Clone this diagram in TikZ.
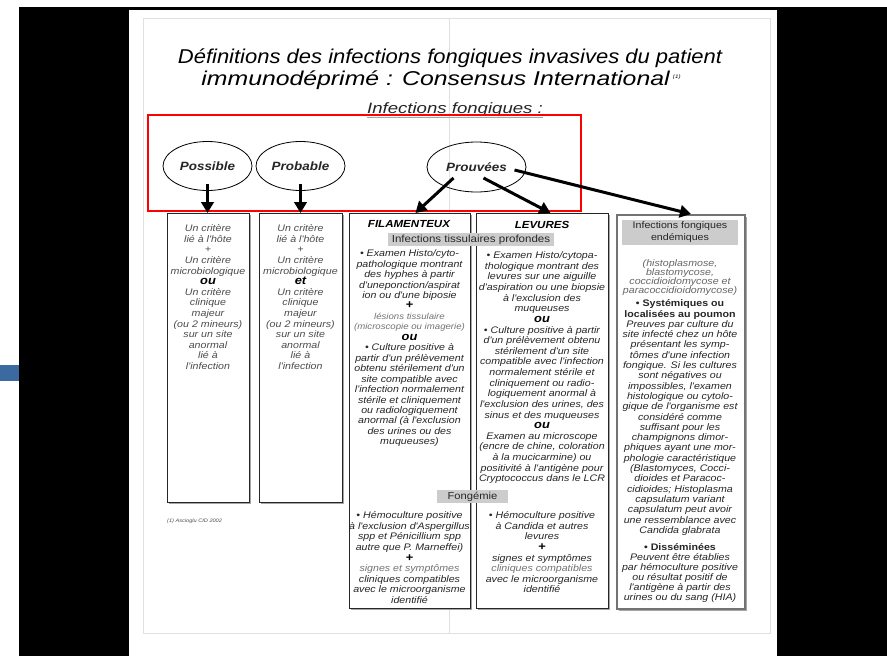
\documentclass[tikz,border=0pt]{standalone}
\usepackage{fontspec}
\setmainfont{Liberation Sans}
\newfontfamily\wf[FakeStretch=1.12]{Liberation Sans}
\newfontfamily\tfa[FakeStretch=1.1]{Liberation Sans}
\newfontfamily\tfb[FakeStretch=1.24]{Liberation Sans}
\usetikzlibrary{shapes.geometric,arrows.meta,shadows}
\definecolor{blu}{RGB}{58,106,160}
\newcommand\fl{\rule{0pt}{8pt}}
\newcommand\bo[1]{{\bfseries\fontsize{11.5}{10.6}\selectfont\color{black}#1}}
\newcommand\lt[1]{{\color{black!55}#1}}
\newcommand\ltsm[1]{{\fontsize{8.6}{10.45}\selectfont\color{black!55}#1}}
\begin{document}
\begin{tikzpicture}[x=1pt,y=-1pt,
  blk/.style={align=center,inner sep=0pt,anchor=north,text=black!85},
  body/.style={blk,font=\wf\itshape\fontsize{9.5}{#1}\selectfont},
  body/.default=10.6,
  box/.style={draw=black!85,line width=0.9pt,fill=white,anchor=north west,inner sep=0pt,
    drop shadow={shadow xshift=1.6pt,shadow yshift=-1.6pt,fill=black!35,opacity=1}},
  oval/.style={ellipse,draw,line width=0.8pt,minimum width=89pt,minimum height=49pt,inner sep=0pt,
    font=\wf\bfseries\itshape\fontsize{12}{12}\selectfont,text=black!85},
  arr/.style={line width=3pt,-{Triangle[length=11pt,width=12.5pt]}},
  bar/.style={fill=black!20,inner sep=0pt,font=\wf\fontsize{10}{12}\selectfont,text=black!85},
]
% background
\useasboundingbox (0,0) rectangle (887,656);
\fill[white] (0,0) rectangle (887,656);
\fill[black] (19,7) rectangle (887,656);
\fill[white] (129,10) rectangle (777,656);
\fill[blu] (0,365) rectangle (19,381);
\draw[black!12,line width=1pt] (143,18) rectangle (770,633);
\draw[black!12,line width=1pt] (449,18) -- (449,633);

% titles
\node[inner sep=0,font=\tfa\itshape\fontsize{20}{20}\selectfont] (t1) at (450,58)
  {Définitions des infections fongiques invasives du patient};
\node[inner sep=0,font=\tfb\itshape\fontsize{20}{20}\selectfont] (t2) at (441,80)
  {immunodéprimé : Consensus International\,\raisebox{7pt}{\fontsize{5}{5}\selectfont (1)}};
\node[inner sep=0,font=\tfb\itshape\fontsize{15}{15}\selectfont,text=black!85] (ifg) at (455,110)
  {Infections fongiques :};
\draw[black!35,line width=1.2pt] ([yshift=-0.5pt]ifg.south west) -- ([yshift=-0.5pt]ifg.south east);

% red frame
\draw[red,line width=1.5pt] (148,115) rectangle (581,211);

% ellipses
\node[oval] (pos) at (207.5,166) {Possible};
\node[oval] (prb) at (300.5,166) {Probable};
\node[oval,minimum width=99pt,minimum height=50pt] (prv) at (476.5,167) {Prouvées};

% boxes
\node[box,minimum width=82pt,minimum height=289pt] (b1) at (167,213) {};
\node[box,minimum width=83pt,minimum height=289pt] (b2) at (259,213) {};
\node[box,minimum width=121pt,minimum height=395pt] (fil) at (349,213) {};
\node[box,minimum width=132pt,minimum height=395pt] (lev) at (476,213) {};
\node[box,minimum width=128pt,minimum height=394pt,draw=black!55,line width=1.8pt] (end) at (616,214) {};

% arrows
\draw[arr] ([yshift=7pt]pos.south) -- (pos.south |- b1.north);
\draw[arr] ([yshift=7pt]prb.south) -- (prb.south |- b2.north);
\draw[arr] ([xshift=-23pt,yshift=-11pt]prv.center) -- ([xshift=5.5pt]fil.north);
\draw[arr] ([xshift=7pt,yshift=-11pt]prv.center) -- ([xshift=8pt]lev.north);
\draw[arr] ([xshift=38pt,yshift=-3pt]prv.center) -- ([xshift=10pt]end.north);

% box 1 and 2
\node[body,text=black!70] (tb1) at (208,223.5) {\fl Un critère\\lié à l'hôte\\+\\Un critère\\microbiologique\\\bo{ou}\\Un critère\\clinique\\majeur\\(ou 2 mineurs)\\sur un site\\anormal\\lié à\\l'infection};
\node[body,text=black!70] (tb2) at (300.5,223.5) {\fl Un critère\\lié à l'hôte\\+\\Un critère\\microbiologique\\\bo{et}\\Un critère\\clinique\\majeur\\(ou 2 mineurs)\\sur un site\\anormal\\lié à\\l'infection};
\node[anchor=west,inner sep=0,font=\wf\itshape\fontsize{5}{5}\selectfont,text=black!70] (fn) at (167,521) {(1) Ascioglu CID 2002};

% FILAMENTEUX
\node[inner sep=0,font=\wf\bfseries\itshape\fontsize{10.3}{12}\selectfont] (hf) at (409,224) {FILAMENTEUX};
\node[body=10.45] (tf1) at (409.5,248.5) {\fl • Examen Histo/cyto-\\pathologique montrant\\des hyphes à partir\\d'uneponction/aspirat\\ion ou d'une biposie\\\bo{+}\\\ltsm{lésions tissulaire}\\\ltsm{(microscopie ou imagerie)}\\\bo{ou}\\• Culture positive à\\partir d'un prélèvement\\obtenu stérilement d'un\\site compatible avec\\l'infection normalement\\stérile et cliniquement\\ou radiologiquement\\anormal (à l'exclusion\\des urines ou des\\muqueuses)};
\node[body] (tf2) at (409.5,510.5) {\fl • Hémoculture positive\\à l'exclusion d'Aspergillus\\spp et Pénicillium spp\\autre que P. Marneffei)\\\bo{+}\\\lt{signes et symptômes}\\cliniques compatibles\\avec le microorganisme\\identifié};

% LEVURES
\node[inner sep=0,font=\wf\bfseries\itshape\fontsize{10.3}{12}\selectfont] (hl) at (542,225) {LEVURES};
\node[body=10.62] (tl1) at (542,250.5) {\fl • Examen Histo/cytopa-\\thologique montrant des\\levures sur une aiguille\\d'aspiration ou une biopsie\\à l'exclusion des\\muqueuses\\\bo{ou}\\• Culture positive à partir\\d'un prélèvement obtenu\\stérilement d'un site\\compatible avec l'infection\\normalement stérile et\\cliniquement ou radio-\\logiquement anormal à\\l'exclusion des urines, des\\sinus et des muqueuses\\\bo{ou}\\Examen au microscope\\(encre de chine, coloration\\à la mucicarmine) ou\\positivité à l'antigène pour\\Cryptococcus dans le LCR};
\node[body] (tl2) at (542,510.5) {\fl • Hémoculture positive\\à Candida et autres\\levures\\\bo{+}\\signes et symptômes\\\lt{cliniques compatibles}\\avec le microorganisme\\identifié};

% bars
\node[bar,minimum width=166pt,minimum height=13pt,font=\wf\fontsize{10.3}{12}\selectfont] (tis) at (471,239.5) {Infections tissulaires profondes};
\node[bar,minimum width=71pt,minimum height=13pt] (fon) at (472.5,496.5) {Fongémie};

% endemic
\node[bar,minimum width=116pt,minimum height=25pt,align=center,font=\wf\fontsize{9.5}{12}\selectfont] (eh) at (680,232.5) {Infections fongiques\\endémiques};
\node[body=9,text=black!60] (e1) at (680,258.5) {\fl (histoplasmose,\\blastomycose,\\coccidioidomycose et\\paracoccidioidomycose)};
\node[body=10.3] (e2) at (680,298.5) {\fl {\upshape\bfseries • Systémiques ou}\\{\upshape\bfseries localisées au poumon}\\Preuves par culture du\\site infecté chez un hôte\\présentant les symp-\\tômes d'une infection\\fongique. Si les cultures\\sont négatives ou\\impossibles, l'examen\\histologique ou cytolo-\\gique de l'organisme est\\considéré comme\\suffisant pour les\\champignons dimor-\\phiques ayant une mor-\\phologie caractéristique\\(Blastomyces, Cocci-\\dioides et Paracoc-\\cidioides; Histoplasma\\capsulatum variant\\capsulatum peut avoir\\une ressemblance avec\\Candida glabrata};
\node[body=10] (e3) at (680,542.5) {\fl {\upshape\bfseries • Disséminées}\\Peuvent être établies\\par hémoculture positive\\ou résultat positif de\\l'antigène à partir des\\urines ou du sang (HIA)};
\end{tikzpicture}
\end{document}
